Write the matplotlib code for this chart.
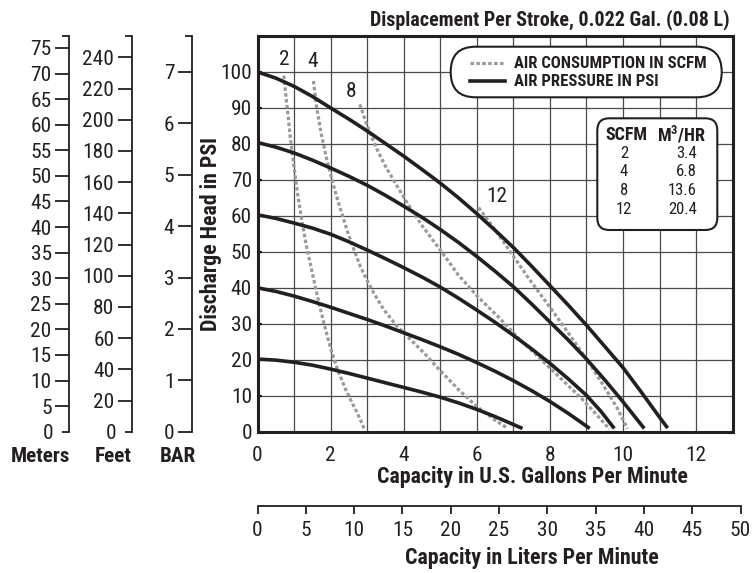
import matplotlib

matplotlib.use("Agg")
import matplotlib.pyplot as plt
from matplotlib import font_manager
from matplotlib.patches import FancyBboxPatch
from matplotlib.lines import Line2D
from matplotlib.ticker import FixedLocator, FixedFormatter, MultipleLocator

# the sheet uses a condensed sans; take one if installed, else Liberation Sans
_names = {f.name for f in font_manager.fontManager.ttflist}
_narrow = [n for n in ["Liberation Sans Narrow", "Arial Narrow", "Roboto Condensed",
                       "Open Sans Condensed", "DejaVu Sans Condensed"] if n in _names]
if _narrow:
    plt.rcParams["font.family"] = [_narrow[0], "DejaVu Sans"]
    K = 1.2
else:
    plt.rcParams["font.family"] = ["Liberation Sans", "DejaVu Sans"]
    K = 1.0

INK = "#231f20"
AIR_GRAY = "#9a9a9a"
GRID = "#4a4a4a"

# air pressure curves (psi): capacity gpm -> discharge head psi
press_labels = [100, 80, 60, 40, 20]
press_gpm = [
    [0, 0.5, 1, 1.5, 2, 2.5, 3, 3.5, 4, 4.5, 5, 5.5, 6, 6.5, 7, 7.5, 8, 8.5, 9,
     9.5, 10, 10.5, 11, 11.22],
    [0, 0.5, 1, 1.5, 2, 2.5, 3, 3.5, 4, 4.5, 5, 5.5, 6, 6.5, 7, 7.5, 8, 8.5, 9,
     9.5, 10, 10.58],
    [0, 0.5, 1, 1.5, 2, 2.5, 3, 3.5, 4, 4.5, 5, 5.5, 6, 6.5, 7, 7.5, 8, 8.5, 9,
     9.4, 9.76],
    [0, 0.5, 1, 1.5, 2, 2.5, 3, 3.5, 4, 4.5, 5, 5.5, 6, 6.5, 7, 7.5, 8, 8.5, 9.09],
    [0, 0.5, 1, 1.5, 2, 2.5, 3, 3.5, 4, 4.5, 5, 5.5, 6, 6.5, 7.25],
]
press_psi = [
    [100, 98.3, 96.0, 93.2, 90.0, 86.9, 83.6, 80.1, 76.6, 72.9, 69.1, 65.0, 60.6,
     56.0, 51.2, 46.0, 40.6, 35.2, 29.6, 23.7, 17.8, 11.0, 4.0, 1.0],
    [80.4, 79.1, 77.5, 75.5, 73.3, 71.0, 68.5, 65.7, 62.7, 59.6, 56.2, 52.6, 48.7,
     44.6, 40.3, 35.5, 30.5, 25.5, 20.2, 14.4, 8.3, 0.9],
    [60.3, 59.3, 58.0, 56.6, 54.9, 52.8, 50.5, 48.1, 45.6, 43.0, 40.2, 37.1, 33.8,
     30.4, 26.8, 23.0, 19.0, 14.7, 10.1, 5.6, 0.9],
    [40.0, 39.0, 37.7, 36.2, 34.6, 32.9, 31.2, 29.4, 27.5, 25.6, 23.6, 21.5, 19.2,
     16.8, 14.2, 11.4, 8.4, 5.1, 0.9],
    [20.2, 19.9, 19.3, 18.5, 17.4, 16.2, 14.9, 13.6, 12.3, 11.0, 9.6, 8.0, 6.2,
     4.2, 0.9],
]

# air consumption curves (scfm)
scfm_labels = ["2", "4", "8", "12"]
scfm_gpm = [
    [0.72, 0.78, 0.84, 0.89, 0.94, 1.0, 1.05, 1.12, 1.2, 1.33, 1.47, 1.62, 1.8,
     2.0, 2.2, 2.4, 2.55, 2.7, 2.82, 2.93],
    [1.53, 1.62, 1.75, 1.9, 2.05, 2.22, 2.45, 2.65, 2.82, 3.0, 3.2, 3.45, 3.8,
     4.2, 4.6, 4.95, 5.5, 6.0, 6.5, 6.85],
    [2.8, 2.95, 3.12, 3.3, 3.5, 3.76, 4.1, 4.5, 5.0, 5.5, 6.0, 6.6, 7.16, 7.6,
     7.98, 8.4, 8.8, 9.2, 9.63],
    [6.05, 6.4, 6.7, 6.95, 7.45, 7.95, 8.5, 9.0, 9.4, 9.85, 10.12],
]
scfm_psi = [
    [99, 93, 87.5, 82.5, 78, 73.5, 69.5, 64.5, 59.5, 52, 45.5, 38.5, 30.8,
     23.2, 17, 12, 8.8, 5.8, 3.2, 0.5],
    [97.5, 90, 82.5, 75.5, 69.5, 63.5, 56, 50.3, 45.8, 42, 38.2, 34, 29.5,
     25.5, 21.4, 17.5, 11.7, 7.0, 3.2, 0.9],
    [91, 86.5, 82, 77.8, 73.8, 69.3, 63.5, 57.3, 50.5, 43.5, 37.8, 31.8, 25.8,
     21.6, 17.9, 13.8, 9.9, 5.6, 0.7],
    [62.3, 57.5, 53.2, 49.5, 42.2, 35.3, 27.5, 20.2, 13.9, 6.4, 0.8],
]
scfm_label_pos = [(0.72, 103.5), (1.5, 103.0), (2.55, 94.5), (6.55, 65.5)]

table_scfm = ["2", "4", "8", "12"]
table_m3hr = ["3.4", "6.8", "13.6", "20.4"]

x_ticks = [0, 2, 4, 6, 8, 10, 12]
y_ticks = [0, 10, 20, 30, 40, 50, 60, 70, 80, 90, 100]
lpm_ticks = [0, 5, 10, 15, 20, 25, 30, 35, 40, 45, 50]
meter_ticks = [5, 10, 15, 20, 25, 30, 35, 40, 45, 50, 55, 60, 65, 70, 75]
feet_ticks = [20, 40, 60, 80, 100, 120, 140, 160, 180, 200, 220, 240]
bar_ticks = [0, 1, 2, 3, 4, 5, 6, 7]

W, H = 752, 573
PSI_MAX = 110
FS_TICK = 12.8 * K
FS_LABEL = 13.1 * K
FS_SMALL = 10.0 * K
FS_TABLE = 10.0 * K


def fx(px):
    return px / W


def fy(py):
    return 1 - py / H


fig = plt.figure(figsize=(W / 100, H / 100), dpi=100)

# main chart
left, right, top, bottom = 257.5, 732.7, 36.0, 431.7
ax = fig.add_axes([fx(left), fy(bottom), fx(right - left), (bottom - top) / H])
ax.set_xlim(0, 13)
ax.set_ylim(0, PSI_MAX)
ax.set_xticks(x_ticks)
ax.set_yticks(y_ticks)
ax.xaxis.set_minor_locator(MultipleLocator(1))
ax.grid(which="both", color=GRID, lw=0.9)
ax.set_axisbelow(True)
for s in ax.spines.values():
    s.set_linewidth(2.2)
    s.set_color(INK)
ax.tick_params(axis="x", which="both", length=0, pad=10, labelsize=FS_TICK, colors=INK)
ax.tick_params(axis="y", direction="in", length=3, width=1.5, pad=4,
               labelsize=FS_TICK, colors=INK)
ax.tick_params(axis="y", which="minor", length=0)

for gx, gy in zip(press_gpm, press_psi):
    ax.plot(gx, gy, color=INK, lw=2.6, solid_capstyle="butt",
            solid_joinstyle="round", zorder=3)
for gx, gy in zip(scfm_gpm, scfm_psi):
    ax.plot(gx, gy, color=AIR_GRAY, lw=2.3, dashes=(1.1, 0.75), zorder=2.5)
for lab, (lx, ly) in zip(scfm_labels, scfm_label_pos):
    ax.text(lx, ly, lab, ha="center", va="center", fontsize=FS_TICK, color=INK)

ax.set_ylabel("Discharge Head in PSI", fontsize=FS_LABEL, fontweight="bold",
              color=INK, va="center")
ax.yaxis.set_label_coords((210.7 - left) / (right - left), 0.5)
ax.set_xlabel("Capacity in U.S. Gallons Per Minute", fontsize=FS_LABEL,
              fontweight="bold", color=INK, va="center")
ax.xaxis.set_label_coords((532 - left) / (right - left), -(477 - bottom) / (bottom - top))

# legend box
legend_box = FancyBboxPatch((4.507, (H - 97.3) / 100), 2.71, 0.506,
                            boxstyle="round,pad=0,rounding_size=0.25",
                            transform=fig.dpi_scale_trans, fc="white", ec=INK,
                            lw=1.5, clip_on=False, zorder=5)
ax.add_patch(legend_box)
fig.add_artist(Line2D([fx(470), fx(505)], [fy(63.3), fy(63.3)], color=AIR_GRAY,
                      lw=2.3, dashes=(1.1, 0.75), zorder=6))
fig.add_artist(Line2D([fx(470), fx(505)], [fy(81), fy(81)], color=INK, lw=2.6,
                      zorder=6))
fig.text(fx(514), fy(63.3), "AIR CONSUMPTION IN SCFM", fontsize=FS_SMALL,
         fontweight="bold", va="center", color=INK, zorder=6)
fig.text(fx(514), fy(81), "AIR PRESSURE IN PSI", fontsize=FS_SMALL,
         fontweight="bold", va="center", color=INK, zorder=6)

# scfm table
table_box = FancyBboxPatch((5.973, (H - 230) / 100), 1.2, 1.117,
                           boxstyle="round,pad=0,rounding_size=0.12",
                           transform=fig.dpi_scale_trans, fc="white", ec=INK,
                           lw=1.5, clip_on=False, zorder=5)
ax.add_patch(table_box)
fig.text(fx(626), fy(135), "SCFM", fontsize=FS_SMALL * 1.08, fontweight="bold",
         ha="center", va="center", color=INK, zorder=6)
fig.text(fx(706), fy(135), "M$^\\mathregular{3}$/HR", fontsize=FS_SMALL * 1.08,
         fontweight="bold", ha="right", va="center", color=INK, zorder=6)
for i, (a, b) in enumerate(zip(table_scfm, table_m3hr)):
    rowy = 153.3 + i * 18.6
    fig.text(fx(624), fy(rowy), a, fontsize=FS_TABLE, ha="center",
             va="center", color=INK, zorder=6)
    fig.text(fx(697), fy(rowy), b, fontsize=FS_TABLE, ha="right",
             va="center", color=INK, zorder=6)

fig.text(fx(730), fy(20), "Displacement Per Stroke, 0.022 Gal. (0.08 L)",
         fontsize=12.0 * K, fontweight="bold", ha="right", va="center", color=INK)


# secondary unit scales on the left
def side_scale(xpix, top_val, major, minor, minor_labels, name, name_x):
    sa = fig.add_axes([fx(xpix), fy(bottom), 0.0001, (bottom - top) / H])
    sa.set_ylim(0, top_val)
    sa.set_xticks([])
    for k in ["top", "right", "bottom"]:
        sa.spines[k].set_visible(False)
    sa.spines["left"].set_linewidth(1.3)
    sa.spines["left"].set_color(INK)
    sa.patch.set_alpha(0)
    sa.yaxis.set_major_locator(FixedLocator(major))
    sa.yaxis.set_minor_locator(FixedLocator(minor))
    sa.yaxis.set_minor_formatter(FixedFormatter(minor_labels))
    sa.tick_params(axis="y", which="major", length=10, width=1.3, pad=2.5,
                   labelsize=FS_TICK, colors=INK)
    sa.tick_params(axis="y", which="minor", length=5, width=1.3, pad=6,
                   labelsize=FS_TICK, colors=INK)
    fig.text(fx(name_x), fy(457), name, fontsize=12.7 * K, fontweight="bold",
             ha="center", va="center", color=INK)


side_scale(69, PSI_MAX * 0.70307, meter_ticks, [0, PSI_MAX * 0.70307], ["0", ""],
           "Meters", 40)
side_scale(131.7, PSI_MAX * 2.3067, feet_ticks, [0, PSI_MAX * 2.3067], ["0", ""],
           "Feet", 112.7)
side_scale(191.7, 7.7, bar_ticks, [7.7], [""], "BAR", 177.7)

# liters per minute scale
la = fig.add_axes([fx(left), fy(506), fx(740.5 - left), 0.0001])
la.set_xlim(0, 50)
la.set_yticks([])
for k in ["top", "right", "left"]:
    la.spines[k].set_visible(False)
la.spines["bottom"].set_linewidth(1.3)
la.spines["bottom"].set_color(INK)
la.patch.set_alpha(0)
la.set_xticks(lpm_ticks)
la.tick_params(axis="x", length=6, width=1.3, pad=5, labelsize=FS_TICK, colors=INK)
fig.text(fx(532), fy(558), "Capacity in Liters Per Minute", fontsize=FS_LABEL,
         fontweight="bold", ha="center", va="center", color=INK)

fig.savefig("out.png", dpi=100)
